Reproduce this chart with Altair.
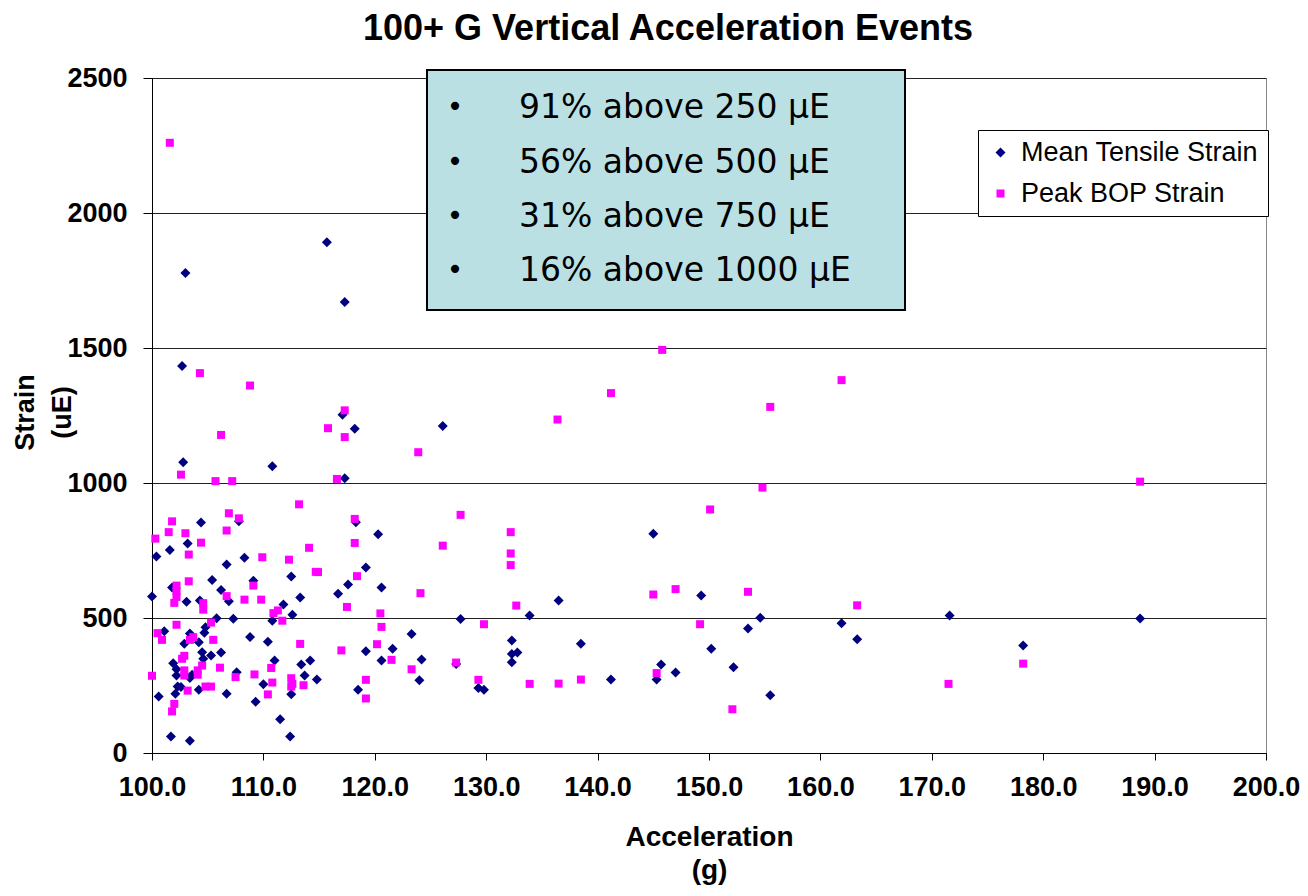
import altair as alt
import pandas as pd

# ---------------- data ----------------
series_names = ["Mean Tensile Strain", "Peak BOP Strain"]

mean_x = [100.0, 100.4, 100.6, 101.1, 101.6, 101.7, 101.8, 101.9, 102.2, 102.2,
          102.3, 102.6, 102.1, 102.7, 102.8, 103.0, 102.9, 103.1, 103.2, 103.4,
          103.4, 103.6, 103.4, 104.2, 104.2, 104.3, 104.4, 104.5, 104.6, 104.7,
          104.8, 105.3, 105.4, 105.8, 106.2, 106.2, 106.7, 106.7, 106.9, 107.3,
          107.6, 107.8, 108.3, 108.8, 109.1, 109.3, 110.0, 110.4, 110.8, 110.8,
          111.0, 111.5, 111.8, 112.4, 112.5, 112.5, 112.6, 113.3, 113.4, 113.7,
          114.2, 114.8, 115.7, 116.7, 117.1, 117.3, 117.3, 117.6, 118.2, 118.3,
          118.5, 119.2, 119.2, 120.3, 120.6, 120.6, 121.6, 123.3, 124.0, 124.2,
          126.1, 127.3, 127.7, 129.3, 129.8, 132.3, 132.3, 132.8, 132.3, 133.9,
          136.5, 138.5, 141.2, 145.0, 145.3, 145.7, 147.0, 149.3, 150.2, 152.2,
          153.5, 154.6, 155.5, 161.9, 163.3, 171.6, 178.2, 188.7]
mean_y = [580, 728, 209, 451, 752, 61, 613, 332, 310, 287,
          246, 244, 219, 1433, 1077, 1778, 405, 560, 776, 443,
          278, 290, 45, 410, 234, 565, 854, 373, 349, 445,
          466, 361, 641, 499, 604, 372, 698, 219, 562, 497,
          299, 858, 723, 430, 638, 190, 255, 412, 1062, 490,
          343, 125, 550, 61, 654, 218, 512, 576, 328, 287,
          343, 272, 1892, 590, 1253, 1670, 1018, 624, 1201, 855,
          234, 687, 377, 810, 613, 343, 386, 441, 269, 346,
          1211, 330, 496, 241, 234, 417, 367, 372, 336, 509,
          565, 405, 272, 812, 272, 328, 298, 583, 386, 318,
          461, 501, 214, 481, 421, 509, 398, 498]

peak_x = [101.6, 104.3, 108.8, 117.3, 115.8, 117.3, 123.9, 116.6, 118.2, 127.7,
          118.2, 126.1, 132.2, 132.2, 132.2, 114.9, 118.4, 124.1, 117.5, 132.7,
          120.5, 120.6, 129.8, 120.2, 117.0, 121.5, 123.3, 127.3, 119.2, 129.3,
          133.9, 119.2, 106.2, 102.6, 105.7, 107.2, 113.2, 106.9, 107.8, 101.8,
          101.5, 103.0, 106.7, 100.3, 104.4, 103.3, 114.1, 109.9, 112.3, 114.7,
          103.3, 102.2, 102.2, 102.2, 102.0, 106.7, 109.1, 108.3, 109.8, 104.6,
          104.6, 110.9, 111.3, 111.7, 113.3, 102.2, 105.3, 100.5, 100.9, 103.4,
          103.7, 105.5, 102.7, 102.9, 104.5, 102.9, 102.9, 104.1, 104.1, 106.1,
          100.0, 107.5, 109.2, 110.7, 110.8, 112.5, 112.6, 112.5, 113.6, 103.2,
          104.8, 105.3, 110.4, 102.0, 101.8, 150.1, 145.0, 147.0, 153.5, 163.3,
          149.2, 145.3, 152.1, 171.5, 136.4, 141.2, 145.8, 155.5, 154.8, 161.9,
          136.5, 138.5, 178.2, 188.7]
peak_y = [2260, 1407, 1361, 1269, 1203, 1170, 1114, 1015, 867, 882,
          778, 768, 818, 739, 696, 670, 655, 592, 541, 546,
          517, 467, 477, 403, 380, 345, 310, 335, 271, 271,
          256, 202, 1178, 1031, 1007, 1007, 921, 888, 869, 858,
          818, 814, 824, 794, 779, 735, 760, 725, 716, 671,
          636, 620, 600, 578, 556, 581, 620, 568, 568, 555,
          531, 518, 528, 490, 404, 475, 483, 444, 419, 419,
          429, 419, 349, 360, 324, 306, 287, 306, 290, 316,
          286, 281, 291, 315, 261, 277, 256, 246, 251, 231,
          246, 246, 217, 182, 154, 902, 587, 607, 597, 547,
          477, 296, 162, 256, 1235, 1333, 1493, 1282, 983, 1381,
          257, 272, 331, 1005]

x_ticks = [100, 110, 120, 130, 140, 150, 160, 170, 180, 190, 200]
y_ticks = [0, 500, 1000, 1500, 2000, 2500]

title_text = "100+ G Vertical Acceleration Events"
x_title = ["Acceleration", "(g)"]
y_title = ["Strain", "(uE)"]
box_lines = ["91% above 250 \u03bcE", "56% above 500 \u03bcE",
             "31% above 750 \u03bcE", "16% above 1000 \u03bcE"]

# ---------------- chart ----------------
FONT = "Liberation Sans"
BOX_FONT = "DejaVu Sans"
W, H = 1114, 675

df = pd.DataFrame({
    "accel": mean_x + peak_x,
    "strain": mean_y + peak_y,
    "series": [series_names[0]] * len(mean_x) + [series_names[1]] * len(peak_x),
})

legend = alt.Legend(
    title=None, orient="none", legendX=826, legendY=52,
    fillColor="white", strokeColor="black",
    padding=9, labelFont=FONT, labelFontSize=27, labelColor="black",
    labelOffset=7, rowPadding=13, symbolSize=45, symbolStrokeWidth=0,
    labelLimit=400,
)

points = alt.Chart(df).mark_point(filled=True, opacity=1, strokeWidth=0).encode(
    x=alt.X("accel:Q",
            scale=alt.Scale(domain=[100, 200], nice=False, zero=False),
            axis=alt.Axis(values=x_ticks, format=".1f", title=x_title, grid=False,
                          labelFlush=False, labelOverlap=False,
                          domainColor="black", tickColor="black", tickSize=7,
                          labelFont=FONT, labelFontSize=27, labelFontWeight="bold",
                          labelColor="black", labelPadding=14,
                          titleFont=FONT, titleFontSize=28, titleFontWeight="bold",
                          titleColor="black", titlePadding=23, titleLineHeight=33)),
    y=alt.Y("strain:Q",
            scale=alt.Scale(domain=[0, 2500], nice=False),
            axis=alt.Axis(values=y_ticks, format="d", title=y_title, grid=True,
                          gridColor="#222222", gridWidth=1,
                          domainColor="black", tickColor="black", tickSize=9,
                          labelFont=FONT, labelFontSize=27, labelFontWeight="bold",
                          labelColor="black", labelPadding=16,
                          titleFont=FONT, titleFontSize=27, titleFontWeight="bold",
                          titleColor="black", titleAngle=270, titleAlign="center",
                          titleBaseline="middle", titleX=-127, titleY=334,
                          titleLineHeight=37)),
    color=alt.Color("series:N",
                    scale=alt.Scale(domain=series_names, range=["#000080", "#FF00FF"]),
                    legend=legend),
    shape=alt.Shape("series:N",
                    scale=alt.Scale(domain=series_names, range=["diamond", "square"]),
                    legend=legend),
    size=alt.Size("series:N",
                  scale=alt.Scale(domain=series_names, range=[100, 64]),
                  legend=None),
)

one = pd.DataFrame({"k": [0]})

box = alt.Chart(one).mark_rect(fill="#BAE0E4", stroke="black", strokeWidth=2).encode(
    x=alt.value(275), x2=alt.value(753), y=alt.value(-8), y2=alt.value(232)
)

layers = [points, box]
line_y = [30, 85, 139, 193]
for txt, yy in zip(box_lines, line_y):
    layers.append(
        alt.Chart(one).mark_text(text="\u2022", font=BOX_FONT, fontSize=28, color="black",
                                 align="center", baseline="middle")
        .encode(x=alt.value(303), y=alt.value(yy))
    )
    layers.append(
        alt.Chart(one).mark_text(text=txt, font=BOX_FONT, fontSize=33, color="black",
                                 align="left", baseline="middle")
        .encode(x=alt.value(367), y=alt.value(yy))
    )

layers.append(
    alt.Chart(one).mark_text(text=title_text, font=FONT, fontSize=36, fontWeight="bold",
                             color="black", align="center", baseline="alphabetic")
    .encode(x=alt.value(516), y=alt.value(-38))
)

chart = alt.layer(*layers).properties(
    width=W, height=H,
    autosize=alt.AutoSizeParams(type="none"),
    padding={"left": 144, "top": 70, "right": 34, "bottom": 135},
    background="white",
).configure_view(stroke="#888888", strokeWidth=1)

chart.save("out.html", embed_options={"renderer": "svg", "actions": False})
